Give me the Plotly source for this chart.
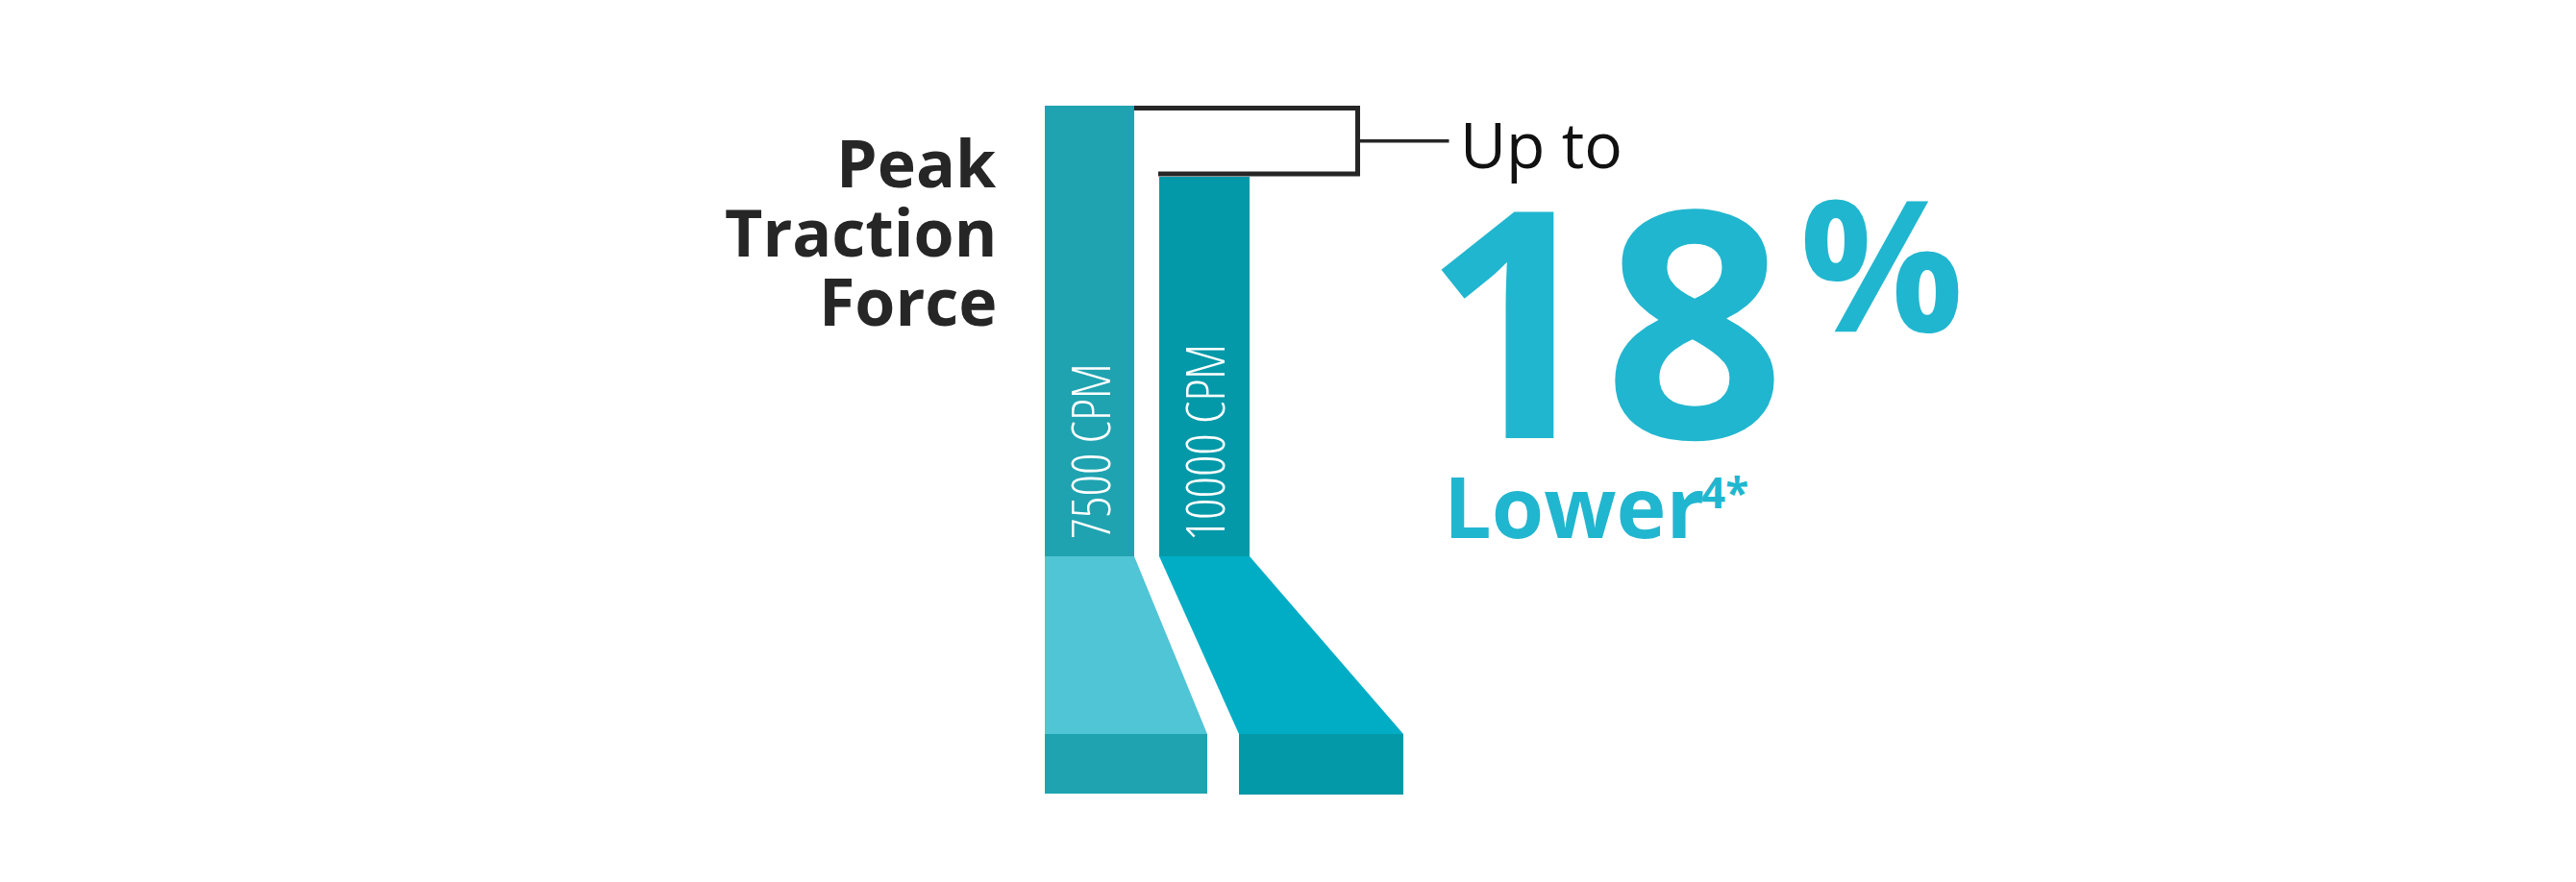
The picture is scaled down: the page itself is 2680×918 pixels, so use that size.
import plotly.graph_objects as go

# ---------------- data ----------------
categories = ["7500 CPM", "10000 CPM"]
peak_force = [100.0, 84.2]          # relative peak traction force (7500 CPM = 100)
headline_lead = "Up to"
headline_value = "18"
headline_unit = "%"
headline_tail = "Lower"
headline_note = "4*"
side_title = ["Peak", "Traction", "Force"]

# ---------------- styling / layout constants ----------------
W, H = 2680, 918
PX_BASE = 571.0            # pixel row of the bar baseline
PX_PER_UNIT = 4.69         # pixels per unit of force
bar_centers = [1125.5, 1245.0]
bar_widths = [93.0, 94.0]
bar_colors = ["#1fa3b0", "#0399a8"]
foot_colors = ["#4fc5d6", "#00adc5"]
foot_bottom_x = [(1079.0, 1248.0), (1281.0, 1452.0)]
foot_px = 756.0
block_px = [818.0, 819.0]
label_mid_px = [462.0, 453.0]
teal = "#21b6cf"
ink = "#262626"


def val(px_row):
    """convert a pixel row to the value axis"""
    return (PX_BASE - px_row) / PX_PER_UNIT


fig = go.Figure()

# feet (decorative perspective base under each bar)
for i in range(len(categories)):
    l = bar_centers[i] - bar_widths[i] / 2
    r = bar_centers[i] + bar_widths[i] / 2
    bl, br = foot_bottom_x[i]
    fig.add_trace(go.Scatter(
        x=[l, r, br, bl, l], y=[0, 0, val(foot_px), val(foot_px), 0],
        fill="toself", fillcolor=foot_colors[i], mode="lines",
        line=dict(width=0, color=foot_colors[i]), hoverinfo="skip", showlegend=False))
    fig.add_trace(go.Scatter(
        x=[bl, br, br, bl, bl],
        y=[val(foot_px), val(foot_px), val(block_px[i]), val(block_px[i]), val(foot_px)],
        fill="toself", fillcolor=bar_colors[i], mode="lines",
        line=dict(width=0, color=bar_colors[i]), hoverinfo="skip", showlegend=False))

# bars
fig.add_trace(go.Bar(
    x=bar_centers, y=peak_force, width=bar_widths, base=0,
    marker=dict(color=bar_colors, line=dict(width=0)),
    hoverinfo="skip", showlegend=False))

# bracket linking the two bar tops
lw = 5
br_x = 1404.5
top_y = peak_force[0] - 2.5 / PX_PER_UNIT
bot_y = peak_force[1] + 3.0 / PX_PER_UNIT
fig.add_trace(go.Scatter(
    x=[bar_centers[0] + bar_widths[0] / 2, br_x, br_x, bar_centers[1] - bar_widths[1] / 2 - 1],
    y=[top_y, top_y, bot_y, bot_y],
    mode="lines", line=dict(color=ink, width=lw), hoverinfo="skip", showlegend=False))
mid_y = (top_y + bot_y) / 2
fig.add_trace(go.Scatter(
    x=[br_x, 1499.5], y=[mid_y, mid_y],
    mode="lines", line=dict(color=ink, width=3.5), hoverinfo="skip", showlegend=False))

# bar labels (rotated, inside bars)
label_font = dict(family="Open Sans, sans-serif", size=55, color="white", weight=300)
for i, cat in enumerate(categories):
    fig.add_annotation(
        x=bar_centers[i] - 1, y=val(label_mid_px[i]), text=cat, textangle=-90,
        xanchor="center", yanchor="middle", showarrow=False, font=label_font)

# side title
title_font = dict(family="Open Sans", size=68, color=ink, weight=700)
for line, cap_mid in zip(side_title, [163, 235, 307]):
    fig.add_annotation(
        x=1031, y=val(cap_mid - 0.03 * 68), text=line, xanchor="right", yanchor="middle",
        showarrow=False, font=title_font)

# headline
fig.add_annotation(x=1509, y=val(143 - 0.03 * 66), text=headline_lead, xanchor="left",
                   yanchor="middle", showarrow=False,
                   font=dict(family="Open Sans", size=66, color="#111111", weight=400))
fig.add_annotation(x=1470, y=val(330 - 0.03 * 330), text=headline_value, xanchor="left",
                   yanchor="middle", showarrow=False,
                   font=dict(family="Open Sans", size=330, color=teal, weight=700))
fig.add_annotation(x=1862, y=val(269 - 0.03 * 190), text=headline_unit, xanchor="left",
                   yanchor="middle", showarrow=False,
                   font=dict(family="Open Sans", size=190, color=teal, weight=700))
fig.add_annotation(x=1492, y=val(521 - 0.03 * 88), text=headline_tail, xanchor="left",
                   yanchor="middle", showarrow=False,
                   font=dict(family="Open Sans", size=88, color=teal, weight=700))
fig.add_annotation(x=1760, y=val(505 - 0.03 * 44), text=headline_note, xanchor="left",
                   yanchor="middle", showarrow=False,
                   font=dict(family="Open Sans", size=44, color=teal, weight=700))

fig.update_layout(
    width=W, height=H, margin=dict(l=0, r=0, t=0, b=0),
    paper_bgcolor="white", plot_bgcolor="white",
    xaxis=dict(range=[0, W], visible=False, fixedrange=True),
    yaxis=dict(range=[val(H), val(0)], visible=False, fixedrange=True),
    bargap=0, showlegend=False,
)

# condensed face for the in-bar labels (Open Sans width axis); falls back to a smaller size
post_js = """
var gd = document.getElementById('{plot_id}');
function condense() {
  gd.querySelectorAll('text.annotation-text').forEach(function (t) {
    if (t.textContent.indexOf('CPM') < 0) return;
    t.style.fontStretch = '75%';
    var target = t.textContent.length > 8 ? 200 : 182;
    var len = t.getComputedTextLength();
    if (len > target * 1.08) {
      t.style.fontSize = (55 * target / len).toFixed(1) + 'px';
    }
  });
}
condense();
if (gd.on) { gd.on('plotly_afterplot', condense); }
"""

fig.write_html("out.html", post_script=post_js)
